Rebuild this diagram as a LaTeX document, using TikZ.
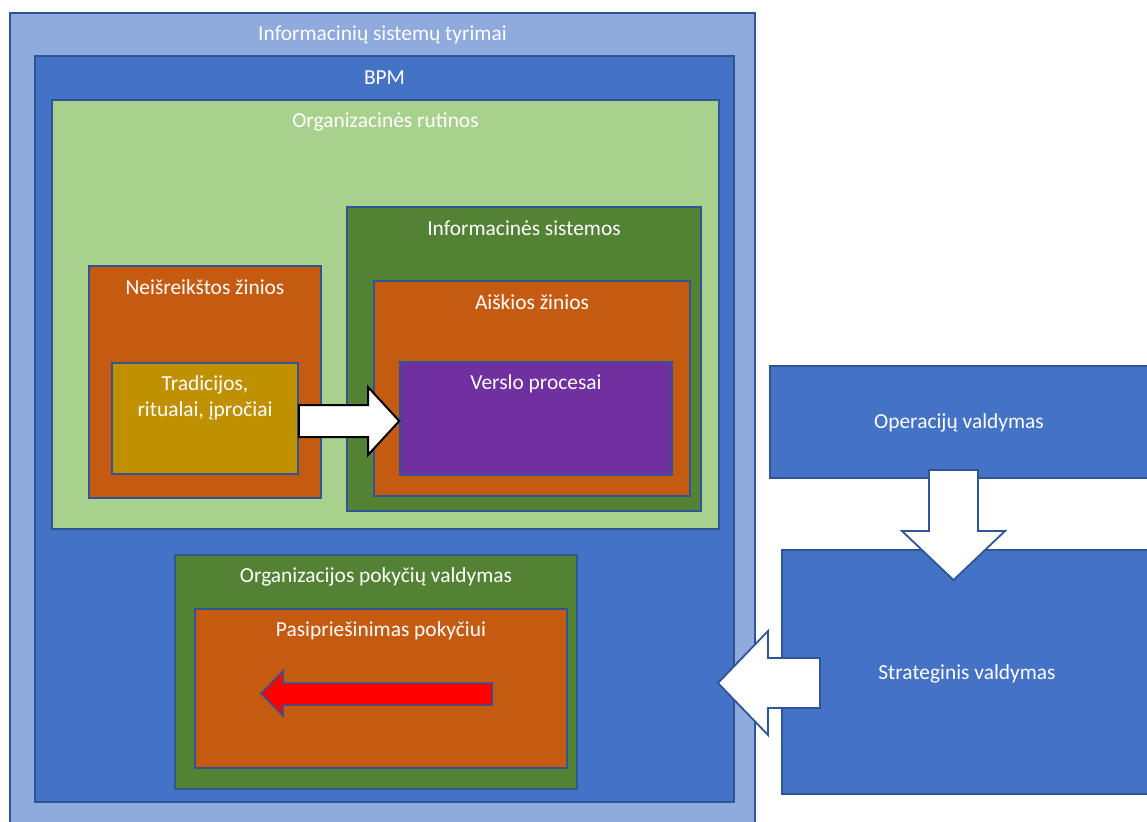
\documentclass[tikz,border=0pt]{standalone}
\usepackage{fontspec}
\setmainfont{Carlito}
\usetikzlibrary{fit,calc}
\definecolor{frameblue}{HTML}{2F5597}
\definecolor{paleblue}{HTML}{8FAADC}
\definecolor{midblue}{HTML}{4472C4}
\definecolor{palegreen}{HTML}{A9D18E}
\definecolor{darkgreen}{HTML}{548235}
\definecolor{rust}{HTML}{C55A11}
\definecolor{violet}{HTML}{7030A0}
\definecolor{gold}{HTML}{BF9000}
\begin{document}
\begin{tikzpicture}[x=0.5pt,y=-0.5pt,
  box/.style={draw=frameblue,line width=0.75pt,inner sep=0pt,rectangle},
  lbl/.style={text=white,font=\fontsize{10.7}{13}\selectfont,inner sep=0pt,align=center},
  blockarrow/.style={fill=white,draw=frameblue,line width=0.9pt,line join=miter},
  redarrow/.style={fill=red,draw=frameblue,line width=0.75pt,line join=miter}]
\useasboundingbox[fill=white] (0,0) rectangle (1147,821);

% nested research areas
\node[box,fill=paleblue,fit={(10,13) (755,830)}] (isr) {};
\node[box,fill=midblue,fit={(35,56) (734,802)}] (bpm) {};
\node[box,fill=palegreen,fit={(52,100) (719,529)}] (rut) {};
\node[box,fill=darkgreen,fit={(347,207) (701,511)}] (is) {};
\node[box,fill=rust,fit={(374,281) (690,496)}] (aisk) {};
\node[box,fill=violet,fit={(400,362) (672,475)}] (vp) {};
\node[box,fill=rust,fit={(89,266) (321,498)}] (neis) {};
\node[box,fill=gold,fit={(112,363) (298,474)}] (trad) {};
\node[box,fill=darkgreen,fit={(175,555) (577,789)}] (opv) {};
\node[box,fill=rust,fit={(195,609) (567,768)}] (pas) {};

% management levels on the right
\node[box,fill=midblue,fit={(770,366) (1160,478)}] (oper) {};
\node[box,fill=midblue,fit={(782,550) (1160,794)}] (strat) {};

% titles
\node[lbl] at (isr.north |- 0,35) {Informacinių sistemų tyrimai};
\node[lbl] at (bpm.north |- 0,78) {BPM};
\node[lbl] at (rut.north |- 0,122) {Organizacinės rutinos};
\node[lbl] at (is.north |- 0,228) {Informacinės sistemos};
\node[lbl] at (aisk.north |- 0,302) {Aiškios žinios};
\node[lbl] at (vp.north |- 0,384) {Verslo procesai};
\node[lbl] at (neis.north |- 0,287) {Neišreikštos žinios};
\node[lbl] at (trad.north |- 0,398) {Tradicijos,\\ritualai, įpročiai};
\node[lbl] at (opv.north |- 0,577) {Organizacijos pokyčių valdymas};
\node[lbl] at (pas.north |- 0,631) {Pasipriešinimas pokyčiui};
\node[lbl] at (959,423) {Operacijų valdymas};
\node[lbl] at (967,674) {Strateginis valdymas};

% tacit knowledge flows into business processes
\draw[fill=white,draw=black,line width=1pt,line join=miter]
  (trad.east |- 0,405) -- (368,405) -- (368,387) -- (vp.west |- 0,421)
  -- (368,455) -- (368,437) -- (trad.east |- 0,437) -- cycle;

% operations feed strategy
\draw[blockarrow]
  (929,470) -- (978,470) -- (978,531) -- (1005,531) -- (953.5,580)
  -- (902,531) -- (929,531) -- cycle;

% strategy acts on BPM
\draw[blockarrow]
  (820,658) -- (768,658) -- (768,631) -- (718,683) -- (768,735)
  -- (768,708) -- (820,708) -- cycle;

% resistance to change
\draw[redarrow]
  (492,683) -- (283,683) -- (283,671) -- (261,693.5) -- (283,716)
  -- (283,705) -- (492,705) -- cycle;
\end{tikzpicture}
\end{document}
